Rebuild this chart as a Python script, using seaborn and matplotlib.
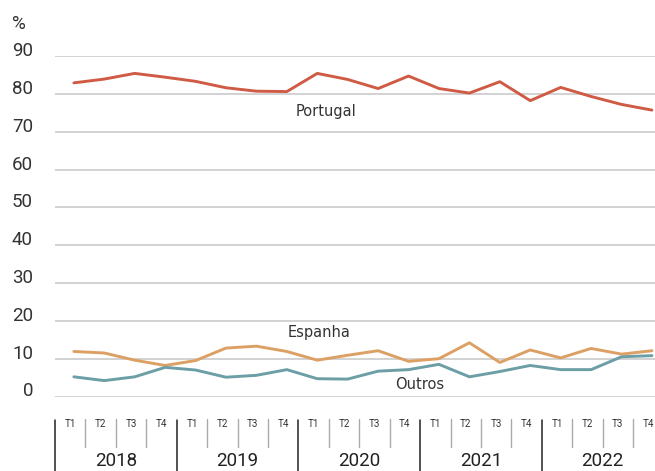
import numpy as np
import pandas as pd
import matplotlib
matplotlib.use("Agg")
import matplotlib.pyplot as plt
import seaborn as sns

# ---- data ----
years = ["2018", "2019", "2020", "2021", "2022"]
quarters = ["T1", "T2", "T3", "T4"]
portugal = [82.9, 83.9, 85.4, 84.4, 83.3, 81.6, 80.7, 80.6, 85.4, 83.8,
            81.4, 84.7, 81.4, 80.2, 83.2, 78.2, 81.7, 79.3, 77.2, 75.7]
espanha = [11.9, 11.5, 9.6, 8.2, 9.5, 12.8, 13.3, 11.9, 9.6, 10.9,
           12.1, 9.3, 10.0, 14.2, 9.0, 12.3, 10.2, 12.7, 11.2, 12.1]
outros = [5.2, 4.2, 5.2, 7.7, 7.0, 5.1, 5.6, 7.1, 4.7, 4.6,
          6.7, 7.1, 8.5, 5.2, 6.6, 8.2, 7.1, 7.1, 10.5, 10.8]
series_names = ["Portugal", "Espanha", "Outros"]
yticks = [0, 10, 20, 30, 40, 50, 60, 70, 80, 90]

colors = {"Portugal": "#cf5b45", "Espanha": "#dca064", "Outros": "#6c9ea6"}

n = len(portugal)
idx = np.arange(n)
df = pd.DataFrame({
    "i": np.tile(idx, 3),
    "value": portugal + espanha + outros,
    "serie": np.repeat(series_names, n),
})

sns.set_theme(style="white")
plt.rcParams["font.family"] = ["Roboto", "DejaVu Sans"]

W, H = 655, 471
fig = plt.figure(figsize=(W / 100, H / 100), dpi=100)
left_px, right_px, top_px, bot_px = 55, 655, 56, 396.5
ax = fig.add_axes([left_px / W, 1 - bot_px / H, (right_px - left_px) / W, (bot_px - top_px) / H])

for y in yticks:
    ax.axhline(y, color="#c6c6c6", lw=1.1, zorder=0)

sns.lineplot(data=df, x="i", y="value", hue="serie", palette=colors, lw=2.1,
             legend=False, ax=ax, clip_on=False, zorder=3)

ax.set_xlim(-0.62, 19.1)
ax.set_ylim(0, 90)
for s in ax.spines.values():
    s.set_visible(False)
ax.set_xlabel("")
ax.set_ylabel("")
ax.set_xticks([])
ax.set_yticks(yticks)
ax.set_yticklabels([str(v) for v in yticks], fontsize=13.5, color="#333333")
ax.tick_params(axis="y", length=0, pad=22 * 0.72)
for lab in ax.get_yticklabels():
    lab.set_verticalalignment("baseline")

# series labels
lab_kw = dict(family="DejaVu Sans", fontsize=10.5, color="#333333", ha="center", va="baseline")
ax.text(8.29, 74.2, "Portugal", **lab_kw)
ax.text(8.06, 15.6, "Espanha", **lab_kw)
ax.text(11.35, 2.1, "Outros", **lab_kw)

fig.text(12 / W, 1 - 29 / H, "%", fontsize=13.5, color="#333333", ha="left", va="baseline")

# category axis (quarters / years)
tr = ax.get_xaxis_transform()
axh = bot_px - top_px
def ay(px):
    return (bot_px - px) / axh

for k in range(n + 1):
    xb = k - 0.62
    if k % 4 == 0:
        ax.plot([xb, xb], [ay(420), ay(471)], color="#222222", lw=1.1, transform=tr, clip_on=False)
    else:
        ax.plot([xb, xb], [ay(419), ay(447)], color="#aaaaaa", lw=1.0, transform=tr, clip_on=False)

for k in range(n):
    ax.text(k - 0.12, ay(424), quarters[k % 4], transform=tr, fontsize=7, color="#333333",
            ha="center", va="center", clip_on=False)

for j, yr in enumerate(years):
    ax.text(4 * j + 2 - 0.62, ay(461), yr, transform=tr, fontsize=13.5, color="#222222",
            ha="center", va="center", clip_on=False)

fig.savefig("out.png", dpi=100)
